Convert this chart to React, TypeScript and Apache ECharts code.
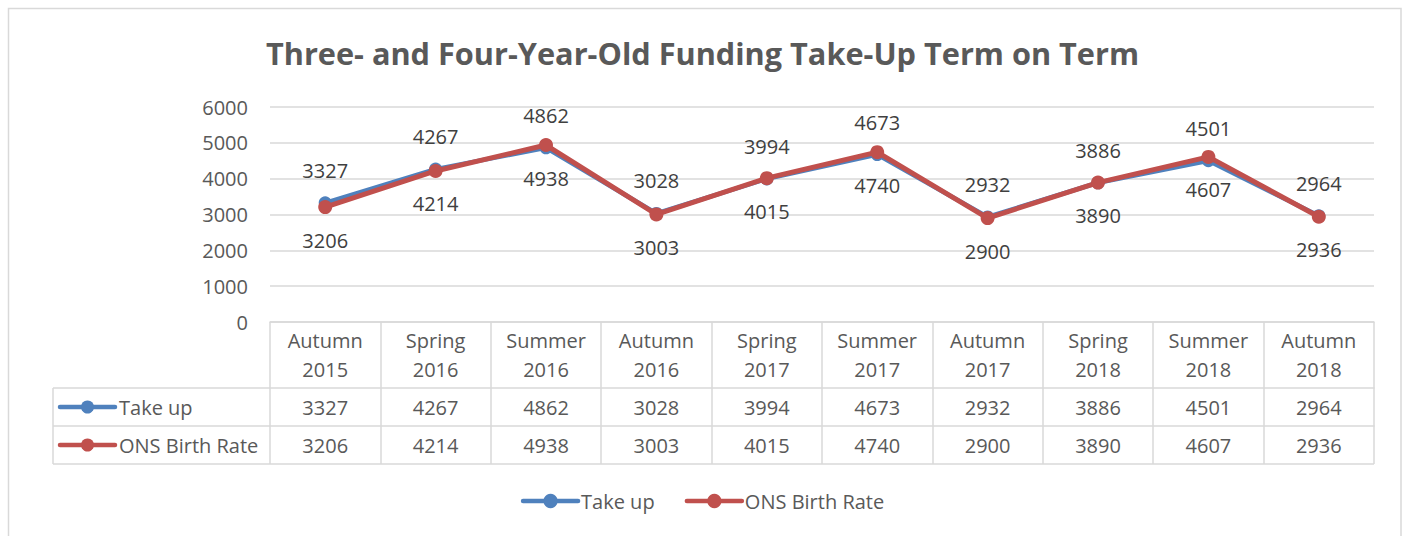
import React, { useEffect, useRef } from "react";
import * as echarts from "echarts";

const categories = [
  "Autumn\n2015", "Spring\n2016", "Summer\n2016", "Autumn\n2016", "Spring\n2017",
  "Summer\n2017", "Autumn\n2017", "Spring\n2018", "Summer\n2018", "Autumn\n2018",
];
const takeUp = [3327, 4267, 4862, 3028, 3994, 4673, 2932, 3886, 4501, 2964];
const onsBirthRate = [3206, 4214, 4938, 3003, 4015, 4740, 2900, 3890, 4607, 2936];
const seriesNames = ["Take up", "ONS Birth Rate"];
const yTicks = { min: 0, max: 6000, interval: 1000 };

const W = 1405;
const H = 536;
const FONT = "'Open Sans', sans-serif";
const BLUE = "#4F81BD";
const RED = "#C0504D";
const GRID = "#D9D9D9";
const TXT = "#595959";
const LBL = "#404040";

const gridLeft = 270;
const gridRight = 1374;
const gridTop = 107;
const gridBottom = 322;
const headerH = 66;
const rowH = 38;
const keyLeft = 53;

export default function App() {
  const ref = useRef<HTMLDivElement>(null);
  useEffect(() => {
    if (!ref.current) return;
    const chart = echarts.init(ref.current, null, { renderer: "svg" });
    const row1 = gridBottom + headerH;
    const row2 = row1 + rowH;
    const row3 = row2 + rowH;
    const colors = [BLUE, RED];
    const keyGraphics: any[] = [];
    [row1, row2].forEach((top, i) => {
      const cy = top + rowH / 2;
      keyGraphics.push(
        { type: "line", shape: { x1: keyLeft + 7, y1: cy, x2: keyLeft + 62, y2: cy }, style: { stroke: colors[i], lineWidth: 4.5, lineCap: "round" } },
        { type: "circle", shape: { cx: keyLeft + 34.5, cy, r: 6.5 }, style: { fill: colors[i] } },
        { type: "text", x: keyLeft + 66, y: cy, style: { text: seriesNames[i], font: `20px ${FONT}`, fill: TXT, verticalAlign: "middle", align: "left" } },
      );
    });
    const borderStyle = { stroke: GRID, lineWidth: 1.5 };
    const option: any = {
      animation: false,
      backgroundColor: "#fff",
      title: {
        text: "Three- and Four-Year-Old Funding Take-Up Term on Term",
        left: "center",
        top: 32,
        textStyle: { fontFamily: FONT, fontSize: 30.7, fontWeight: "bold", color: TXT },
      },
      legend: {
        data: seriesNames,
        bottom: 20,
        left: "center",
        itemWidth: 55,
        itemHeight: 18,
        itemGap: 30,
        lineStyle: { width: 4.5, cap: "round" },
        textStyle: { fontFamily: FONT, fontSize: 20, color: TXT, padding: [0, 0, 0, -2] },
      },
      grid: { left: gridLeft, right: W - gridRight, top: gridTop, bottom: H - gridBottom, containLabel: false },
      xAxis: [
        {
          type: "category",
          data: categories,
          boundaryGap: true,
          axisLine: { lineStyle: { color: GRID, width: 1.5 } },
          axisTick: { show: true, length: headerH, interval: 0, lineStyle: { color: GRID, width: 1.5 } },
          axisLabel: { interval: 0, fontFamily: FONT, fontSize: 20, color: TXT, lineHeight: 29, margin: 4 },
        },
        {
          type: "category",
          data: takeUp.map(String),
          position: "bottom",
          offset: headerH,
          boundaryGap: true,
          axisLine: { lineStyle: { color: GRID, width: 1.5 } },
          axisTick: { show: true, length: rowH, interval: 0, lineStyle: { color: GRID, width: 1.5 } },
          axisLabel: { interval: 0, fontFamily: FONT, fontSize: 20, color: TXT, lineHeight: rowH, margin: 0 },
        },
        {
          type: "category",
          data: onsBirthRate.map(String),
          position: "bottom",
          offset: headerH + rowH,
          boundaryGap: true,
          axisLine: { lineStyle: { color: GRID, width: 1.5 } },
          axisTick: { show: true, length: rowH, interval: 0, lineStyle: { color: GRID, width: 1.5 } },
          axisLabel: { interval: 0, fontFamily: FONT, fontSize: 20, color: TXT, lineHeight: rowH, margin: 0 },
        },
      ],
      yAxis: {
        type: "value",
        min: yTicks.min,
        max: yTicks.max,
        interval: yTicks.interval,
        axisLine: { show: false },
        axisTick: { show: false },
        splitLine: { lineStyle: { color: GRID, width: 1.5 } },
        axisLabel: { fontFamily: FONT, fontSize: 20, color: TXT, margin: 22, formatter: (v: number) => String(v) },
      },
      series: [
        {
          name: seriesNames[0],
          type: "line",
          data: takeUp,
          xAxisIndex: 0,
          symbol: "circle",
          symbolSize: 13,
          itemStyle: { color: BLUE },
          lineStyle: { color: BLUE, width: 4.5 },
          label: { show: true, position: "top", distance: 16, fontFamily: FONT, fontSize: 20, color: LBL },
          z: 2,
        },
        {
          name: seriesNames[1],
          type: "line",
          data: onsBirthRate,
          xAxisIndex: 0,
          symbol: "circle",
          symbolSize: 14,
          itemStyle: { color: RED },
          lineStyle: { color: RED, width: 5 },
          label: { show: true, position: "bottom", distance: 16, fontFamily: FONT, fontSize: 20, color: LBL },
          z: 3,
        },
      ],
      graphic: [
        { type: "rect", shape: { x: 8.5, y: 8.5, width: W - 4 - 8.5, height: H + 20 }, style: { fill: "none", stroke: GRID, lineWidth: 1.5 }, silent: true, z: -1 },
        { type: "line", shape: { x1: keyLeft, y1: row1, x2: gridLeft, y2: row1 }, style: borderStyle },
        { type: "line", shape: { x1: keyLeft, y1: row2, x2: gridLeft, y2: row2 }, style: borderStyle },
        { type: "line", shape: { x1: keyLeft, y1: row3, x2: gridRight, y2: row3 }, style: borderStyle },
        { type: "line", shape: { x1: keyLeft, y1: row1, x2: keyLeft, y2: row3 }, style: borderStyle },
        ...keyGraphics,
      ],
    };
    chart.setOption(option);
    return () => chart.dispose();
  }, []);
  return <div ref={ref} style={{ position: "absolute", left: 0, top: 0, width: W, height: H }} />;
}
